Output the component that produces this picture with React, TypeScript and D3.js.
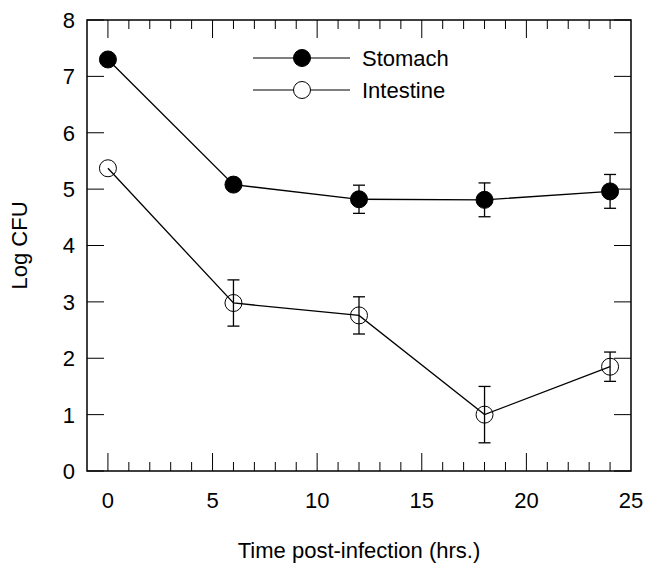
import React from "react";
import * as d3 from "d3";

const hours = [0, 6, 12, 18, 24];
const stomach = [7.3, 5.08, 4.82, 4.81, 4.96];
const stomachErr = [0, 0, 0.25, 0.3, 0.3];
const intestine = [5.37, 2.98, 2.76, 1.0, 1.85];
const intestineErr = [0, 0.41, 0.33, 0.5, 0.26];
const xTicks = [0, 5, 10, 15, 20, 25];
const yTicks = [0, 1, 2, 3, 4, 5, 6, 7, 8];
const seriesNames = ["Stomach", "Intestine"];

const W = 647, H = 564;
const L = 87, R = 631, T = 20, B = 471;

export default function App() {
  const x = d3.scaleLinear().domain([-1, 25]).range([L, R]);
  const y = d3.scaleLinear().domain([0, 8]).range([B, T]);
  const line = d3.line<number>().x((_, i) => x(hours[i])).y((d) => y(d));
  const minor = d3.range(0, 25, 1);
  const font = "'Liberation Sans', Arial, Helvetica, sans-serif";
  const fs = 22;
  const series = [
    { name: seriesNames[0], vals: stomach, err: stomachErr, filled: true },
    { name: seriesNames[1], vals: intestine, err: intestineErr, filled: false },
  ];
  const r = 8.5;
  return (
    <svg width={W} height={H} style={{ position: "absolute", left: 0, top: 0, background: "#fff" }}>
      <rect x={L} y={T} width={R - L} height={B - T} fill="none" stroke="#000" strokeWidth={1.5} />
      {minor.map((t) => {
        const major = t % 5 === 0;
        const len = major ? 18 : 9;
        return (
          <g key={"mx" + t}>
            <line x1={x(t)} x2={x(t)} y1={B} y2={B - len} stroke="#000" strokeWidth={1} />
            <line x1={x(t)} x2={x(t)} y1={T} y2={T + len} stroke="#000" strokeWidth={1} />
          </g>
        );
      })}
      {yTicks.map((t) => (
        <g key={"y" + t}>
          <line x1={L} x2={L + 17} y1={y(t)} y2={y(t)} stroke="#000" strokeWidth={1} />
          <line x1={R} x2={R - 17} y1={y(t)} y2={y(t)} stroke="#000" strokeWidth={1} />
          <text x={75} y={y(t)} dy="0.36em" textAnchor="end" fontSize={fs} fontFamily={font}>{t}</text>
        </g>
      ))}
      {xTicks.map((t) => (
        <text key={"xt" + t} x={x(t)} y={508} textAnchor="middle" fontSize={fs} fontFamily={font}>{t}</text>
      ))}
      <text x={359} y={558} textAnchor="middle" fontSize={fs} fontFamily={font}>Time post-infection (hrs.)</text>
      <text transform={`translate(27,${y(4)}) rotate(-90)`} textAnchor="middle" fontSize={fs} fontFamily={font}>Log CFU</text>
      {series.map((s) => (
        <g key={s.name}>
          <path d={line(s.vals) || ""} fill="none" stroke="#000" strokeWidth={1.3} />
          {s.vals.map((v, i) =>
            s.err[i] > 0 ? (
              <g key={"e" + i}>
                <line x1={x(hours[i])} x2={x(hours[i])} y1={y(v - s.err[i])} y2={y(v + s.err[i])} stroke="#000" strokeWidth={1.3} />
                <line x1={x(hours[i]) - 6} x2={x(hours[i]) + 6} y1={y(v - s.err[i])} y2={y(v - s.err[i])} stroke="#000" strokeWidth={1.3} />
                <line x1={x(hours[i]) - 6} x2={x(hours[i]) + 6} y1={y(v + s.err[i])} y2={y(v + s.err[i])} stroke="#000" strokeWidth={1.3} />
              </g>
            ) : null
          )}
          {s.vals.map((v, i) => (
            <circle key={"c" + i} cx={x(hours[i])} cy={y(v)} r={r} fill={s.filled ? "#000" : "none"} stroke="#000" strokeWidth={1} />
          ))}
        </g>
      ))}
      {series.map((s, i) => {
        const ly = 58 + i * 32;
        return (
          <g key={"lg" + i}>
            <line x1={253} x2={350} y1={ly} y2={ly} stroke="#000" strokeWidth={1.2} />
            <circle cx={302} cy={ly} r={r} fill={s.filled ? "#000" : "#fff"} stroke="#000" strokeWidth={1} />
            <text x={362} y={ly} dy="0.36em" fontSize={fs} fontFamily={font}>{s.name}</text>
          </g>
        );
      })}
    </svg>
  );
}
